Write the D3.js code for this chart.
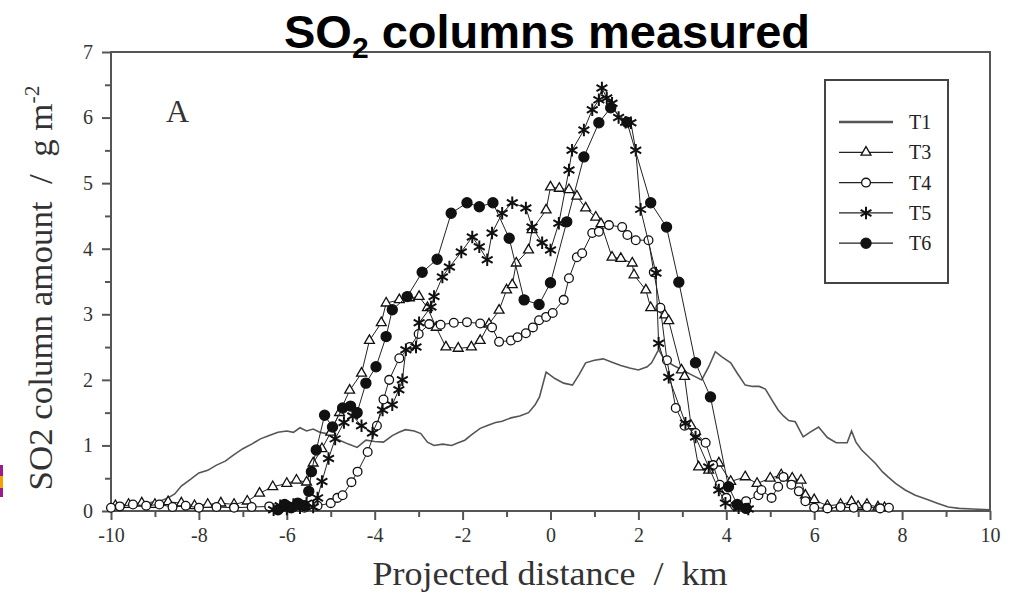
<!DOCTYPE html>
<html>
<head>
<meta charset="utf-8">
<script src="https://cdn.jsdelivr.net/npm/d3@7"></script>
<style>
  body { margin: 0; background: #fff; }
  svg { display: block; }
</style>
</head>
<body>
<svg id="chart" width="1009" height="595"></svg>
<script>
// tick values
const xTicks = [-10, -8, -6, -4, -2, 0, 2, 4, 6, 8, 10];
const xMinor = [-9, -7, -5, -3, -1, 1, 3, 5, 7, 9];
const yTicks = [0, 1, 2, 3, 4, 5, 6, 7];
const yMinor = [0.5, 1.5, 2.5, 3.5, 4.5, 5.5, 6.5];
const seriesNames = ["T1", "T3", "T4", "T5", "T6"];

// T1 : plain line [km, g m-2]
const t1 = [[-10,0.06],[-9.7,0.08],[-9.4,0.1],[-9.1,0.13],[-8.9,0.15],[-8.7,0.2],[-8.55,0.26],[-8.4,0.38],
  [-8.2,0.48],[-8.0,0.58],[-7.8,0.62],[-7.6,0.7],[-7.4,0.76],[-7.2,0.86],[-7.0,0.95],[-6.8,1.02],[-6.6,1.1],
  [-6.4,1.15],[-6.2,1.2],[-6.0,1.22],[-5.85,1.2],[-5.7,1.27],[-5.55,1.22],[-5.4,1.25],[-5.25,1.2],[-5.1,1.18],
  [-4.95,1.12],[-4.8,1.08],[-4.6,1.02],[-4.4,0.97],[-4.2,1.08],[-4.0,1.06],[-3.8,1.05],[-3.6,1.15],[-3.45,1.2],
  [-3.3,1.24],[-3.1,1.22],[-2.95,1.18],[-2.8,1.05],[-2.65,1.0],[-2.45,1.02],[-2.25,1.0],[-2.1,1.04],[-1.95,1.08],
  [-1.8,1.16],[-1.6,1.26],[-1.45,1.3],[-1.25,1.35],[-1.1,1.37],[-0.9,1.42],[-0.7,1.45],[-0.5,1.5],[-0.35,1.62],
  [-0.25,1.74],[-0.1,2.12],[0.1,2.02],[0.3,1.95],[0.5,1.92],[0.65,2.08],[0.8,2.26],[1.0,2.3],[1.2,2.32],[1.4,2.27],
  [1.6,2.22],[1.8,2.18],[2.0,2.15],[2.2,2.2],[2.3,2.26],[2.46,2.46],[2.6,2.3],[2.8,2.22],[3.0,2.15],[3.2,2.08],
  [3.44,2.0],[3.6,2.2],[3.75,2.43],[3.9,2.35],[4.1,2.26],[4.25,2.1],[4.43,1.92],[4.6,1.9],[4.75,1.9],[4.89,1.86],
  [5.05,1.68],[5.18,1.54],[5.3,1.45],[5.42,1.38],[5.57,1.36],[5.68,1.22],[5.75,1.13],[5.9,1.2],[6.1,1.28],
  [6.3,1.12],[6.5,1.04],[6.75,1.04],[6.85,1.22],[6.95,1.05],[7.08,0.93],[7.25,0.82],[7.4,0.72],[7.55,0.6],
  [7.68,0.52],[7.85,0.42],[8.07,0.32],[8.3,0.24],[8.59,0.17],[8.8,0.12],[9.05,0.06],[9.3,0.04],[9.6,0.03],[10,0.02]];

// T3 : open triangles
const t3 = [[-9.9,0.08],[-9.6,0.1],[-9.3,0.12],[-9.0,0.1],[-8.7,0.14],[-8.4,0.12],[-8.1,0.08],[-7.8,0.1],
  [-7.5,0.12],[-7.2,0.1],[-6.9,0.15],[-6.62,0.27],[-6.32,0.37],[-6.0,0.42],[-5.78,0.47],[-5.55,0.44],[-5.4,0.73],
  [-5.2,0.95],[-5.0,1.2],[-4.8,1.5],[-4.57,1.84],[-4.3,2.1],[-4.12,2.6],[-3.85,2.87],[-3.74,3.17],[-3.44,3.22],
  [-3.21,3.25],[-2.99,3.27],[-2.8,3.1],[-2.6,2.8],[-2.38,2.5],[-2.1,2.48],[-1.8,2.5],[-1.6,2.6],[-1.4,2.85],
  [-1.17,3.06],[-1.0,3.37],[-0.87,3.45],[-0.78,3.78],[-0.5,3.98],[-0.42,4.29],[-0.1,4.59],[0.0,4.94],[0.2,4.92],
  [0.42,4.9],[0.6,4.8],[0.8,4.62],[1.03,4.48],[1.15,4.38],[1.4,3.87],[1.6,3.85],[1.86,3.78],[1.9,3.6],[2.17,3.37],
  [2.28,3.1],[2.6,2.99],[2.69,2.9],[2.98,2.15],[3.05,2.05],[3.2,1.3],[3.37,0.67],[3.6,0.62],[3.83,0.73],[4.1,0.45],
  [4.43,0.52],[4.7,0.42],[5.0,0.5],[5.25,0.55],[5.5,0.5],[5.7,0.47],[5.8,0.24],[6.0,0.17],[6.3,0.08],[6.6,0.1],
  [6.85,0.14],[7.0,0.07],[7.2,0.1],[7.45,0.06],[7.6,0.05]];

// T4 : open circles
const t4 = [[-10,0.05],[-9.8,0.07],[-9.5,0.1],[-9.2,0.08],[-8.9,0.1],[-8.6,0.06],[-8.3,0.08],[-8.0,0.05],
  [-7.6,0.06],[-7.2,0.05],[-6.8,0.06],[-6.4,0.07],[-6.0,0.06],[-5.6,0.05],[-5.3,0.08],[-5.0,0.12],[-4.85,0.2],
  [-4.73,0.24],[-4.53,0.44],[-4.39,0.6],[-4.16,0.9],[-3.95,1.3],[-3.8,1.7],[-3.67,2.0],[-3.44,2.33],[-3.2,2.5],
  [-3.0,2.7],[-2.76,2.85],[-2.5,2.84],[-2.2,2.87],[-1.9,2.88],[-1.6,2.86],[-1.33,2.8],[-1.17,2.58],[-0.9,2.6],
  [-0.75,2.65],[-0.56,2.71],[-0.4,2.8],[-0.26,2.91],[-0.1,2.96],[0.05,3.02],[0.3,3.22],[0.42,3.55],[0.6,3.87],
  [0.72,3.93],[0.95,4.24],[1.1,4.26],[1.33,4.36],[1.63,4.33],[1.75,4.21],[1.94,4.13],[2.23,4.13],[2.35,3.64],
  [2.5,3.1],[2.65,2.3],[2.85,1.57],[3.05,1.3],[3.3,1.19],[3.53,1.04],[3.7,0.7],[3.85,0.4],[4.0,0.2],[4.2,0.08],
  [4.45,0.15],[4.73,0.24],[4.8,0.32],[5.03,0.2],[5.18,0.37],[5.3,0.52],[5.48,0.4],[5.65,0.3],[5.8,0.15],[6.0,0.05],
  [6.3,0.04],[6.6,0.06],[6.9,0.05],[7.2,0.06],[7.5,0.04],[7.7,0.05]];

// T5 : asterisks
const t5 = [[-6.3,0.02],[-6.15,0.08],[-6.0,0.03],[-5.85,0.1],[-5.7,0.05],[-5.55,0.12],[-5.4,0.06],[-5.3,0.2],
  [-5.2,0.45],[-5.05,0.8],[-4.9,1.1],[-4.7,1.35],[-4.5,1.45],[-4.3,1.3],[-4.05,1.19],[-3.82,1.54],[-3.6,1.62],
  [-3.45,1.85],[-3.37,2.0],[-3.29,2.46],[-3.06,2.5],[-2.99,2.87],[-2.72,3.11],[-2.65,3.27],[-2.46,3.57],[-2.3,3.72],
  [-2.03,3.95],[-1.78,4.18],[-1.62,4.03],[-1.44,3.83],[-1.33,4.24],[-1.1,4.54],[-0.87,4.7],[-0.56,4.62],[-0.42,4.33],
  [-0.19,4.09],[0.0,3.98],[0.19,4.39],[0.42,5.2],[0.49,5.5],[0.76,5.81],[0.95,6.12],[1.1,6.27],[1.17,6.45],
  [1.28,6.3],[1.4,6.22],[1.55,6.0],[1.71,5.93],[1.83,5.92],[1.94,5.5],[2.05,4.6],[2.4,3.63],[2.46,2.56],[2.69,2.04],
  [3.07,1.34],[3.3,1.13],[3.6,0.67],[3.83,0.32],[3.98,0.12],[4.28,0.05],[4.5,0.03]];

// T6 : filled circles
const t6 = [[-6.2,0.02],[-6.05,0.1],[-5.9,0.05],[-5.75,0.12],[-5.6,0.08],[-5.5,0.3],[-5.44,0.6],[-5.33,0.93],
  [-5.14,1.46],[-4.96,1.28],[-4.73,1.57],[-4.55,1.6],[-4.4,1.5],[-4.2,1.95],[-3.97,2.2],[-3.74,2.66],[-3.6,3.07],
  [-3.26,3.27],[-2.92,3.64],[-2.58,3.84],[-2.26,4.54],[-1.9,4.7],[-1.62,4.64],[-1.31,4.7],[-0.94,4.16],[-0.6,3.22],
  [-0.26,3.15],[0.0,3.48],[0.37,4.41],[0.76,5.4],[1.1,5.92],[1.37,6.15],[1.74,5.93],[2.28,4.7],[2.64,4.33],
  [2.92,3.49],[3.3,2.26],[3.64,1.74],[4.05,0.37],[4.25,0.1],[4.45,0.04]];

const svg = d3.select("#chart");
const serif = "'Liberation Serif', 'DejaVu Serif', serif";

const x = d3.scaleLinear().domain([-10, 10]).range([111, 990]);
const y = d3.scaleLinear().domain([0, 7]).range([511, 52]);

// small coloured mark on the left edge
svg.append("rect").attr("x", 0).attr("y", 465).attr("width", 3).attr("height", 32).attr("fill", "#9c1a8e");
svg.append("rect").attr("x", 0).attr("y", 476).attr("width", 3).attr("height", 12).attr("fill", "#f2a200");

// axes
svg.append("g").attr("transform", "translate(0,511)")
  .call(d3.axisBottom(x).tickValues(xTicks).tickSize(9).tickPadding(8).tickFormat(d => String(d)));
svg.append("g").attr("transform", "translate(0,511)")
  .call(d3.axisBottom(x).tickValues(xMinor).tickSize(6).tickFormat(""));
svg.append("g").attr("transform", "translate(111,0)")
  .call(d3.axisLeft(y).tickValues(yTicks).tickSize(9).tickPadding(9).tickFormat(d => String(d)));
svg.append("g").attr("transform", "translate(111,0)")
  .call(d3.axisLeft(y).tickValues(yMinor).tickSize(6).tickFormat(""));

svg.selectAll(".domain").remove();
svg.selectAll(".tick line").attr("stroke", "#555").attr("stroke-width", 2);
svg.selectAll(".tick text").attr("font-family", serif).attr("font-size", 20).attr("fill", "#333");

// frame
svg.append("rect").attr("x", x(-10)).attr("y", y(7))
  .attr("width", x(10) - x(-10)).attr("height", y(0) - y(7))
  .attr("fill", "none").attr("stroke", "#555").attr("stroke-width", 2);

const line = d3.line().x(d => x(d[0])).y(d => y(d[1]));
const plot = svg.append("g");

// T1
plot.append("path").datum(t1).attr("d", line)
  .attr("fill", "none").attr("stroke", "#555").attr("stroke-width", 1.6);

const sym = {
  T3: d3.symbol().type(d3.symbolTriangle2).size(70),
  T4: d3.symbol().type(d3.symbolCircle).size(60),
  T5: d3.symbol().type(d3.symbolAsterisk).size(110),
  T6: d3.symbol().type(d3.symbolCircle).size(80)
};
const fills = { T3: "#fff", T4: "#fff", T5: "none", T6: "#111" };

function drawSeries(name, data) {
  plot.append("path").datum(data).attr("d", line)
    .attr("fill", "none").attr("stroke", "#222").attr("stroke-width", 1);
  plot.append("g").selectAll("path").data(data).enter().append("path")
    .attr("transform", d => `translate(${x(d[0])},${y(d[1])})`)
    .attr("d", sym[name]())
    .attr("fill", fills[name])
    .attr("stroke", "#111")
    .attr("stroke-width", name === "T5" ? 2 : 1.3);
}
drawSeries("T3", t3);
drawSeries("T4", t4);
drawSeries("T5", t5);
drawSeries("T6", t6);

// panel letter
svg.append("text").attr("x", 166).attr("y", 122).text("A")
  .attr("font-family", serif).attr("font-size", 32).attr("fill", "#333");

// legend
const lg = svg.append("g");
lg.append("rect").attr("x", 825).attr("y", 80).attr("width", 123).attr("height", 203)
  .attr("fill", "#fff").attr("stroke", "#444").attr("stroke-width", 2);
seriesNames.forEach((n, i) => {
  const ly = 122 + i * 30.3;
  if (n === "T1") {
    lg.append("line").attr("x1", 839).attr("x2", 893).attr("y1", ly).attr("y2", ly)
      .attr("stroke", "#555").attr("stroke-width", 2.5);
  } else {
    lg.append("line").attr("x1", 839).attr("x2", 893).attr("y1", ly).attr("y2", ly)
      .attr("stroke", "#222").attr("stroke-width", 1.3);
    lg.append("path").attr("transform", `translate(866,${ly})`)
      .attr("d", sym[n]()).attr("fill", fills[n] === "none" ? "#fff" : fills[n])
      .attr("stroke", "#111").attr("stroke-width", n === "T5" ? 2 : 1.3);
  }
  lg.append("text").attr("x", 909).attr("y", ly + 7).text(n)
    .attr("font-family", serif).attr("font-size", 20).attr("fill", "#222");
});

// title
const title = svg.append("text").attr("x", 547).attr("y", 48).attr("text-anchor", "middle")
  .attr("font-family", "'Liberation Sans', Arial, sans-serif").attr("font-weight", "bold")
  .attr("font-size", 47).attr("fill", "#000");
title.append("tspan").text("SO");
title.append("tspan").text("2").attr("font-size", 30).attr("dy", 10);
title.append("tspan").text(" columns measured").attr("dy", -10);

// axis titles
svg.append("text").attr("x", 550).attr("y", 585).attr("text-anchor", "middle")
  .style("white-space", "pre")
  .attr("textLength", 355).attr("lengthAdjust", "spacingAndGlyphs")
  .attr("font-family", serif).attr("font-size", 34).attr("fill", "#333")
  .text("Projected distance  /  km");

const yl = svg.append("text").attr("transform", "translate(52,288) rotate(-90)")
  .attr("text-anchor", "middle").style("white-space", "pre")
  .attr("textLength", 405).attr("lengthAdjust", "spacingAndGlyphs")
  .attr("font-family", serif).attr("font-size", 34).attr("fill", "#333");
yl.append("tspan").text("SO2 column amount  /  g m");
yl.append("tspan").text("-2").attr("font-size", 21).attr("dy", -13);
</script>
</body>
</html>
